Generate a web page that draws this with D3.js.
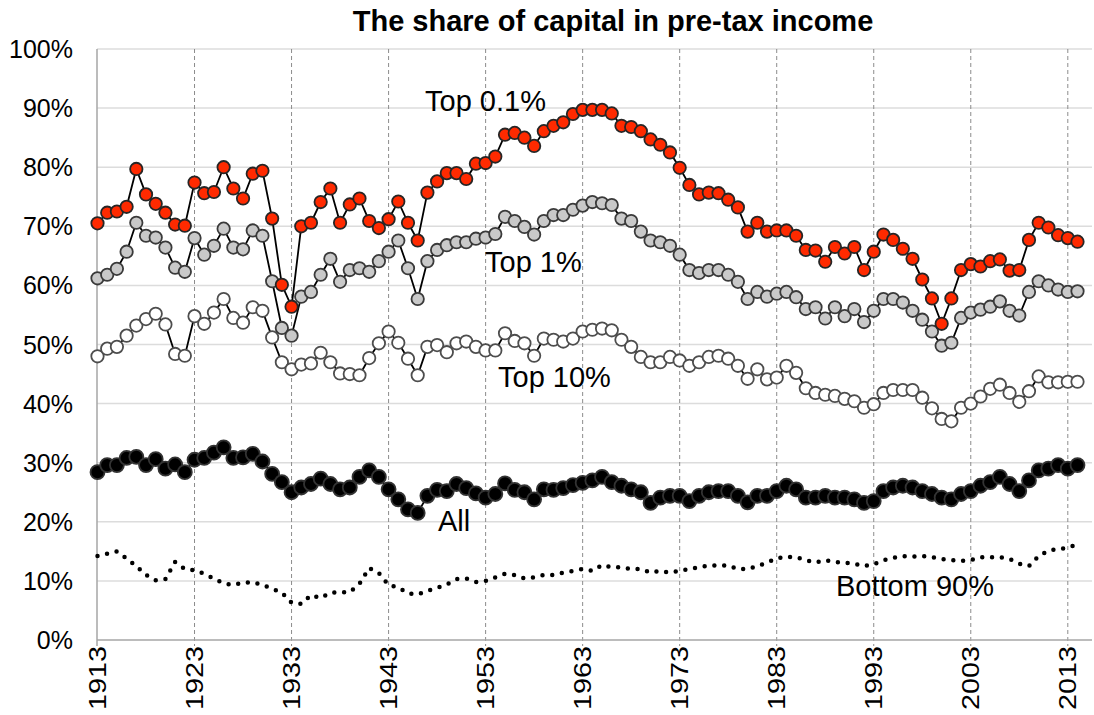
<!DOCTYPE html>
<html>
<head>
<meta charset="utf-8">
<script src="https://cdn.jsdelivr.net/npm/d3@7"></script>
<style>
  body { margin: 0; background: #fff; }
  svg text { font-family: "Liberation Sans", Arial, sans-serif; fill: #000; }
</style>
</head>
<body>
<div id="chart"></div>
<script>
// years 1913..2014, one value per year
const firstYear = 1913;
const tickYears = [1913, 1923, 1933, 1943, 1953, 1963, 1973, 1983, 1993, 2003, 2013];
const yTicks = [0, 10, 20, 30, 40, 50, 60, 70, 80, 90, 100];

const top01 = [
  70.5, 72.3, 72.5, 73.3, 79.7, 75.4, 73.8, 72.3, 70.3, 70.1,
  77.4, 75.6, 75.8, 80.0, 76.4, 74.7, 78.9, 79.4, 71.3, 60.1,
  56.4, 70.0, 70.6, 74.1, 76.4, 70.6, 73.7, 74.7, 70.9, 69.7,
  71.2, 74.2, 70.6, 67.6, 75.7, 77.6, 79.0, 79.0, 78.0, 80.6,
  80.7, 81.8, 85.5, 85.8, 85.0, 83.6, 86.1, 87.0, 87.6, 89.0,
  89.7, 89.7, 89.7, 89.1, 87.0, 86.8, 86.1, 84.7, 83.8, 82.5,
  79.9, 77.0, 75.4, 75.7, 75.6, 74.5, 73.2, 69.1, 70.6, 69.1,
  69.3, 69.3, 68.4, 66.0, 65.9, 64.0, 66.5, 65.4, 66.5, 62.6,
  65.7, 68.6, 67.7, 66.2, 64.5, 61.0, 57.8, 53.5, 57.8, 62.6,
  63.6, 63.2, 64.1, 64.4, 62.5, 62.6, 67.7, 70.6, 69.8, 68.5,
  68.0, 67.4
];

const top1 = [
  61.2, 61.8, 62.8, 65.7, 70.6, 68.4, 68.1, 66.4, 63.0, 62.3,
  68.0, 65.2, 66.7, 69.6, 66.4, 66.1, 69.3, 68.4, 60.7, 52.8,
  51.5, 58.1, 58.9, 61.8, 64.5, 60.6, 62.6, 62.9, 62.3, 64.1,
  65.7, 67.6, 62.9, 57.7, 64.1, 66.0, 66.8, 67.3, 67.3, 67.9,
  68.1, 68.7, 71.6, 70.9, 69.9, 68.6, 70.9, 71.9, 71.9, 72.8,
  73.5, 74.1, 73.9, 73.6, 71.3, 70.9, 69.1, 67.6, 67.3, 66.7,
  65.2, 62.6, 62.1, 62.6, 62.6, 61.8, 60.6, 57.7, 58.9, 58.1,
  58.6, 58.9, 58.0, 56.0, 56.3, 54.4, 56.3, 54.8, 56.0, 53.8,
  55.7, 57.7, 57.7, 57.1, 55.7, 54.2, 52.2, 49.8, 50.3, 54.5,
  55.4, 55.9, 56.4, 57.3, 55.7, 54.9, 58.9, 60.7, 60.0, 59.3,
  58.9, 59.0
];

const top10 = [
  48.0, 49.3, 49.6, 51.5, 53.2, 54.3, 55.2, 53.4, 48.4, 48.1,
  54.8, 53.5, 55.4, 57.7, 54.5, 53.7, 56.3, 55.7, 51.2, 47.0,
  45.8, 46.6, 46.8, 48.6, 47.0, 45.1, 45.0, 44.8, 47.7, 50.2,
  52.2, 50.3, 47.6, 44.8, 49.6, 49.9, 48.7, 50.2, 50.5, 49.6,
  49.0, 49.0, 51.9, 50.6, 50.2, 48.1, 51.0, 50.8, 50.5, 51.0,
  52.2, 52.5, 52.7, 52.4, 50.8, 49.6, 47.9, 47.0, 47.0, 47.9,
  47.3, 46.4, 47.0, 47.9, 48.1, 47.6, 46.4, 44.2, 45.8, 44.1,
  44.4, 46.4, 45.2, 42.6, 41.8, 41.5, 41.3, 40.8, 40.4, 39.3,
  39.9, 41.8, 42.3, 42.3, 42.3, 41.0, 39.2, 37.4, 37.0, 39.3,
  40.0, 41.2, 42.5, 43.2, 41.8, 40.3, 42.1, 44.6, 43.6, 43.6,
  43.7, 43.7
];

const allShare = [
  28.4, 29.6, 29.6, 30.8, 31.0, 29.6, 30.6, 29.0, 29.7, 28.4,
  30.5, 30.8, 31.7, 32.6, 30.8, 30.9, 31.5, 30.2, 28.1, 26.7,
  25.0, 25.8, 26.4, 27.3, 26.4, 25.5, 25.8, 27.6, 28.7, 27.6,
  25.5, 23.8, 22.1, 21.5, 24.4, 25.4, 25.2, 26.4, 25.7, 24.8,
  24.1, 24.7, 26.5, 25.4, 25.0, 23.8, 25.5, 25.4, 25.7, 26.2,
  26.6, 27.0, 27.6, 26.7, 26.1, 25.5, 25.0, 23.2, 24.1, 24.4,
  24.4, 23.5, 24.4, 25.0, 25.2, 25.2, 24.4, 23.3, 24.4, 24.4,
  25.2, 26.1, 25.5, 24.1, 24.1, 24.4, 24.1, 24.1, 23.8, 23.2,
  23.5, 25.2, 25.8, 26.1, 25.8, 25.2, 24.7, 24.1, 23.8, 24.7,
  25.2, 26.1, 26.7, 27.6, 26.4, 25.2, 27.0, 28.7, 29.0, 29.6,
  29.0, 29.6
];

const bottom90 = [
  14.2, 14.6, 15.0, 13.8, 12.5, 11.0, 10.1, 10.3, 13.2, 12.0,
  11.8, 11.2, 10.4, 9.6, 9.3, 9.7, 9.8, 9.3, 8.7, 8.0,
  6.3, 6.1, 7.6, 7.1, 8.0, 8.1, 8.1, 9.5, 12.2, 11.3,
  9.3, 8.9, 7.9, 7.7, 8.3, 8.8, 9.4, 10.3, 10.4, 9.8,
  10.0, 10.6, 11.2, 11.0, 10.4, 10.6, 11.0, 11.0, 11.4, 11.7,
  12.0, 11.7, 12.7, 12.3, 12.3, 12.0, 12.0, 11.4, 11.7, 11.4,
  11.7, 12.0, 12.3, 12.6, 12.6, 12.6, 12.0, 12.0, 12.5, 13.1,
  13.8, 14.1, 14.0, 13.5, 13.1, 13.5, 13.2, 13.1, 12.9, 12.5,
  12.8, 13.5, 13.9, 14.2, 14.1, 14.2, 14.0, 13.7, 13.5, 13.4,
  13.5, 14.0, 14.0, 14.0, 13.7, 12.9, 12.5, 14.2, 15.1, 15.4,
  15.6, 16.2
];

const width = 1094;
const height = 715;
const plot = { left: 97, right: 1092, top: 49, bottom: 640 };

const svg = d3.select("#chart")
  .append("svg")
  .attr("width", width)
  .attr("height", height);

const x = d3.scaleLinear()
  .domain([1913, 2014])
  .range([97.5, 1077.5]);

const y = d3.scaleLinear()
  .domain([0, 100])
  .range([plot.bottom, plot.top]);

// horizontal gridlines
svg.append("g")
  .selectAll("line")
  .data(yTicks.filter((d) => d > 0))
  .join("line")
  .attr("x1", plot.left)
  .attr("x2", plot.right)
  .attr("y1", (d) => y(d))
  .attr("y2", (d) => y(d))
  .attr("stroke", "#dcdcdc")
  .attr("stroke-width", 1.5);

// vertical dashed gridlines every 10 years
svg.append("g")
  .selectAll("line")
  .data(tickYears.filter((d) => d > 1913))
  .join("line")
  .attr("x1", (d) => x(d))
  .attr("x2", (d) => x(d))
  .attr("y1", plot.top)
  .attr("y2", plot.bottom + 6)
  .attr("stroke", "#8c8c8c")
  .attr("stroke-width", 1)
  .attr("stroke-dasharray", "4,3");

// axes lines
svg.append("line")
  .attr("x1", plot.left).attr("x2", plot.left)
  .attr("y1", plot.top).attr("y2", plot.bottom + 6)
  .attr("stroke", "#a6a6a6").attr("stroke-width", 1.5);
svg.append("line")
  .attr("x1", plot.left).attr("x2", plot.right)
  .attr("y1", plot.bottom).attr("y2", plot.bottom)
  .attr("stroke", "#a6a6a6").attr("stroke-width", 1.5);

// y tick labels
svg.append("g")
  .selectAll("text")
  .data(yTicks)
  .join("text")
  .attr("x", 73)
  .attr("y", (d) => y(d) + 9)
  .attr("text-anchor", "end")
  .attr("font-size", 25)
  .text((d) => d + "%");

// x tick labels, rotated
svg.append("g")
  .selectAll("text")
  .data(tickYears)
  .join("text")
  .attr("transform", (d) => `translate(${x(d) + 8},${plot.bottom + 6}) rotate(-90)`)
  .attr("text-anchor", "end")
  .attr("font-size", 23)
  .attr("textLength", 64)
  .attr("lengthAdjust", "spacingAndGlyphs")
  .text((d) => d);

// title
svg.append("text")
  .attr("x", 613)
  .attr("y", 31)
  .attr("text-anchor", "middle")
  .attr("font-size", 29)
  .attr("font-weight", "bold")
  .text("The share of capital in pre-tax income");

const toPoints = (arr) => arr.map((v, i) => ({ year: firstYear + i, value: v }));
const line = d3.line()
  .x((d) => x(d.year))
  .y((d) => y(d.value));

// bottom 90%: dotted line, no markers
svg.append("path")
  .datum(toPoints(bottom90))
  .attr("d", line)
  .attr("fill", "none")
  .attr("stroke", "#000")
  .attr("stroke-width", 4.5)
  .attr("stroke-linecap", "round")
  .attr("stroke-dasharray", "0,9.8");

const series = [
  { name: "All", values: allShare, fill: "#000000", stroke: "#333333", r: 7 },
  { name: "Top 10%", values: top10, fill: "#ffffff", stroke: "#4d4d4d", r: 6.2 },
  { name: "Top 1%", values: top1, fill: "#c9c9c9", stroke: "#3a3a3a", r: 6.2 },
  { name: "Top 0.1%", values: top01, fill: "#ff2a00", stroke: "#262626", r: 6.2 },
];

series.forEach((s) => {
  const pts = toPoints(s.values);
  const g = svg.append("g").attr("class", "series");
  g.append("path")
    .datum(pts)
    .attr("d", line)
    .attr("fill", "none")
    .attr("stroke", "#000")
    .attr("stroke-width", 1.8);
  g.selectAll("circle")
    .data(pts)
    .join("circle")
    .attr("cx", (d) => x(d.year))
    .attr("cy", (d) => y(d.value))
    .attr("r", s.r)
    .attr("fill", s.fill)
    .attr("stroke", s.stroke)
    .attr("stroke-width", 1.8);
});

// series labels
const labels = [
  { text: "Top 0.1%", x: 425, y: 111 },
  { text: "Top 1%", x: 485, y: 272 },
  { text: "Top 10%", x: 498, y: 387 },
  { text: "All", x: 438, y: 531 },
  { text: "Bottom 90%", x: 836, y: 596 },
];
svg.append("g")
  .selectAll("text")
  .data(labels)
  .join("text")
  .attr("x", (d) => d.x)
  .attr("y", (d) => d.y)
  .attr("font-size", 29)
  .text((d) => d.text);
</script>
</body>
</html>
